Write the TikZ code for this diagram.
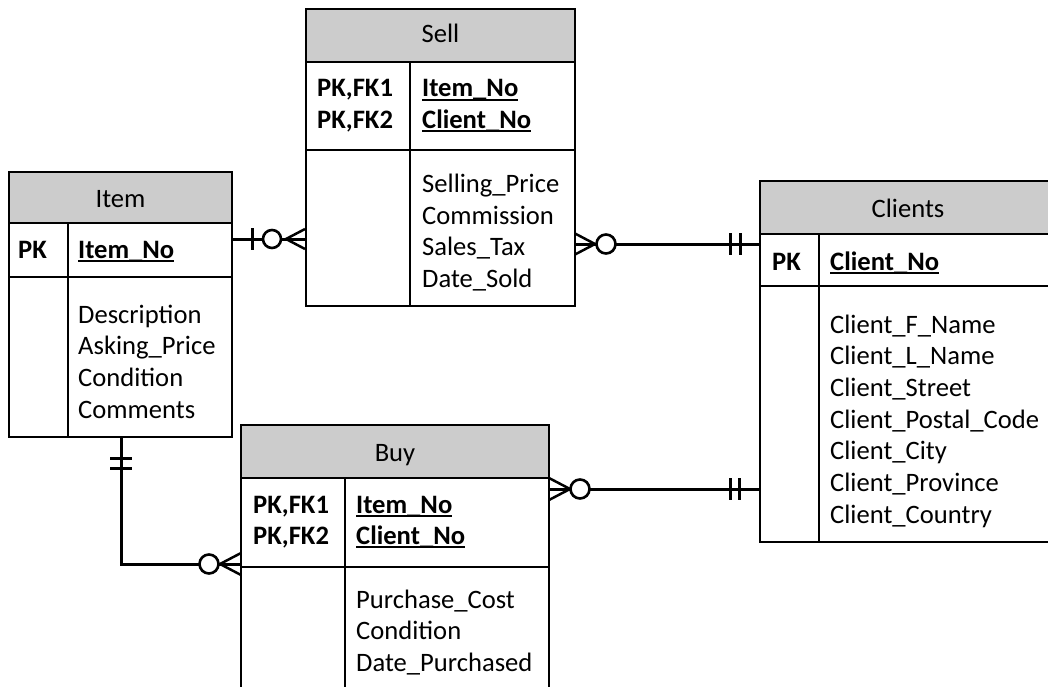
\documentclass[tikz,border=0pt]{standalone}
\usepackage{fontspec}
\setmainfont{Carlito}
\definecolor{hdrgray}{RGB}{204,204,204}
\newcommand\fsz{\fontsize{26.6}{31.7}\selectfont}
\newcommand\keyname[1]{\setbox0\hbox{\bfseries #1}\rlap{\rule[-3.6pt]{\wd0}{1.9pt}}\box0}
\newcommand\ertable[8]{%
  \fill[hdrgray] (#2,#3) rectangle (#4,#6);
  \draw[ln] (#2,#6) -- (#4,#6) (#2,#7) -- (#4,#7) (#8,#6) -- (#8,#5);
  \node[tbl, minimum width={(#4-#2)*1pt}, minimum height={(#5-#3)*1pt}] (#1) at ({(#2+#4)/2},{(#3+#5)/2}) {};
}
\tikzset{
  tbl/.style={draw, line width=2.2pt, inner sep=0pt, outer sep=0pt},
  ln/.style={line width=2.2pt},
  rel/.style={line width=3pt},
  crow/.style={line width=2.5pt},
  bar/.style={line width=3pt},
  circ/.style={draw, line width=2.6pt, fill=white, circle, inner sep=0pt, minimum size=18pt},
  txt/.style={inner sep=0pt, anchor=base west, font=\fsz},
  htxt/.style={inner sep=0pt, anchor=base, font=\fsz},
}
\begin{document}
\begin{tikzpicture}[x=1pt,y=-1pt]
\useasboundingbox (0,0) rectangle (1048,687);
\clip (0,0) rectangle (1048,687);
\fill[white] (0,0) rectangle (1048,687);

% tables
\ertable{item}{9}{172}{232}{437}{223}{277}{68}
\ertable{sell}{306}{9}{575}{306}{62}{150}{410}
\ertable{clients}{760}{181}{1060}{542}{234}{286}{819}
\ertable{buy}{241}{425}{549}{720}{478}{567}{345}

% Item texts
\node[htxt] (item-h) at (120.5,207) {Item};
\node[txt, font=\fsz\bfseries] (item-pk) at (18,258) {PK};
\node[txt] (item-k1) at (78,258) {\keyname{Item\_No}};
\foreach \t [count=\i] in {Description,Asking\_Price,Condition,Comments}
  \node[txt, name=item-a\i] at (78,{323+(\i-1)*31.67}) {\t};

% Sell texts
\node[htxt] (sell-h) at (440.5,43) {Sell};
\node[txt, font=\fsz\bfseries] (sell-pk1) at (317,97) {PK,FK1};
\node[txt, font=\fsz\bfseries] (sell-pk2) at (317,128.5) {PK,FK2};
\node[txt] (sell-k1) at (422,97) {\keyname{Item\_No}};
\node[txt] (sell-k2) at (422,128.5) {\keyname{Client\_No}};
\foreach \t [count=\i] in {Selling\_Price,Commission,Sales\_Tax,Date\_Sold}
  \node[txt, name=sell-a\i] at (422,{192.5+(\i-1)*31.5}) {\t};

% Clients texts
\node[htxt] (clients-h) at (908,217) {Clients};
\node[txt, font=\fsz\bfseries] (clients-pk) at (772,270) {PK};
\node[txt] (clients-k1) at (830,270) {\keyname{Client\_No}};
\foreach \t [count=\i] in {Client\_F\_Name,Client\_L\_Name,Client\_Street,Client\_Postal\_Code,Client\_City,Client\_Province,Client\_Country}
  \node[txt, name=clients-a\i] at (830,{333+(\i-1)*31.67}) {\t};

% Buy texts
\node[htxt] (buy-h) at (395,461) {Buy};
\node[txt, font=\fsz\bfseries] (buy-pk1) at (253,513) {PK,FK1};
\node[txt, font=\fsz\bfseries] (buy-pk2) at (253,544.5) {PK,FK2};
\node[txt] (buy-k1) at (356,513) {\keyname{Item\_No}};
\node[txt] (buy-k2) at (356,544.5) {\keyname{Client\_No}};
\foreach \t [count=\i] in {Purchase\_Cost,Condition,Date\_Purchased}
  \node[txt, name=buy-a\i] at (356,{608+(\i-1)*31.8}) {\t};

% relationship rows
\coordinate (r1) at (0,239);
\coordinate (r2) at (0,244);
\coordinate (r3) at (0,489);
\coordinate (r4) at (121,564);

% Item -- Sell
\draw[rel] (item.east |- r1) -- (sell.west |- r1);
\draw[bar] (252,228) -- (252,250);
\draw[crow] (305,229) -- (286,239) -- (305,249);
\node[circ] (o1) at (272,239) {};

% Sell -- Clients
\draw[rel] (sell.east |- r2) -- (clients.west |- r2);
\draw[crow] (575,233.5) -- (595,244) -- (575,254.5);
\node[circ, minimum size=19pt] (o2) at (606,244) {};
\draw[bar] (730.5,233) -- (730.5,255) (740,233) -- (740,255);

% Buy -- Clients
\draw[rel] (buy.east |- r3) -- (clients.west |- r3);
\draw[crow] (549,478) -- (570,489) -- (549,500);
\node[circ, minimum size=19pt] (o3) at (580,489) {};
\draw[bar] (730,478) -- (730,500) (739.5,478) -- (739.5,500);

% Item -- Buy
\draw[rel] (item.south -| r4) -- (r4) -- (buy.west |- r4);
\draw[bar] (110,458) -- (132,458) (110,468) -- (132,468);
\draw[crow] (241,553) -- (220,564) -- (241,575);
\node[circ, minimum size=19pt] (o4) at (209,564) {};
\end{tikzpicture}
\end{document}
